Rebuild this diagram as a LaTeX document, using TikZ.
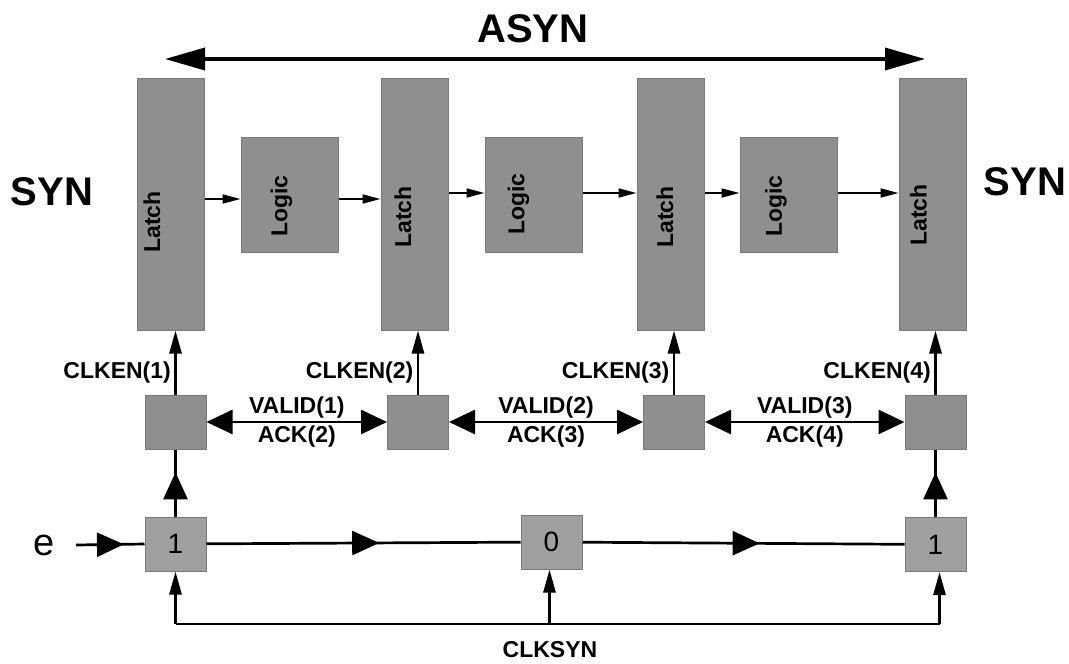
\documentclass[tikz,border=0pt]{standalone}
\usepackage{fontspec}
\setmainfont{Liberation Sans}
\usetikzlibrary{arrows.meta,decorations.markings}
\definecolor{boxgray}{RGB}{143,143,143}
\definecolor{tokgray}{RGB}{160,160,160}
\definecolor{edgegray}{RGB}{122,122,122}
\newcommand{\lblfont}{\fontsize{23}{27}\selectfont\bfseries}
\newcommand{\synfont}{\fontsize{40}{46}\selectfont\bfseries}
\newcommand{\digfont}{\fontsize{28}{32}\selectfont}
\begin{document}
\begin{tikzpicture}[x=1pt,y=1pt,
    block/.style={draw=edgegray,line width=1pt,fill=boxgray,inner sep=0pt},
    latch/.style={block,minimum width=67pt,minimum height=252pt},
    logic/.style={block,minimum width=97pt,minimum height=115pt},
    ctrl/.style={block,minimum width=61pt,minimum height=54pt},
    token/.style={ctrl,fill=tokgray,font=\digfont},
    lab/.style={font=\lblfont},
    vlab/.style={font=\lblfont,rotate=90,inner sep=0pt},
    sig/.style={line width=1.8pt,-{Triangle[length=18pt,width=9pt]}},
    en/.style={line width=2.7pt,-{Triangle[length=23pt,width=12pt]}},
    hand/.style={line width=2.7pt,{Triangle[length=26pt,width=24pt]}-{Triangle[length=26pt,width=24pt]}},
    flow/.style={line width=2.7pt,postaction={decorate},
      decoration={markings,mark=at position #1 with {\arrow{Triangle[length=27pt,width=24pt]}}}}]
  \useasboundingbox (0,0) rectangle (1069,-664);
  % pipeline
  \node[latch] (latch1) at (170.5,-204) {};
  \node[latch] (latch2) at (414.5,-204) {};
  \node[latch] (latch3) at (670.5,-204) {};
  \node[latch] (latch4) at (932.5,-204) {};
  \node[logic] (logic1) at (289.5,-195) {};
  \node[logic] (logic2) at (533.5,-195) {};
  \node[logic] (logic3) at (788.5,-195) {};
  \node[vlab] (latch1txt) at (152,-222) {Latch};
  \node[vlab] (latch2txt) at (403,-217) {Latch};
  \node[vlab] (latch3txt) at (665,-217) {Latch};
  \node[vlab] (latch4txt) at (918.5,-215) {Latch};
  \node[vlab] (logic1txt) at (281.5,-206) {Logic};
  \node[vlab] (logic2txt) at (518.5,-204) {Logic};
  \node[vlab] (logic3txt) at (776,-206) {Logic};
  \draw[sig] ([yshift=5pt]latch1.east) -- ([yshift=-4pt]logic1.west);
  \draw[sig] ([yshift=-4pt]logic1.east) -- ([yshift=5pt]latch2.west);
  \draw[sig] ([yshift=11pt]latch2.east) -- ([yshift=2pt]logic2.west);
  \draw[sig] ([yshift=2pt]logic2.east) -- ([yshift=11pt]latch3.west);
  \draw[sig] ([yshift=11pt]latch3.east) -- ([yshift=2pt]logic3.west);
  \draw[sig] ([yshift=2pt]logic3.east) -- ([yshift=11pt]latch4.west);
  % titles
  \node[font=\synfont] (asyn) at (533,-29) {ASYN};
  \node[font=\synfont] (synL) at (52,-192) {SYN};
  \node[font=\synfont] (synR) at (1025,-182) {SYN};
  \coordinate (asynL) at (165,-59);
  \coordinate (asynR) at (925,-59);
  \draw[line width=3.5pt,{Triangle[length=40pt,width=22pt]}-{Triangle[length=40pt,width=22pt]}] (asynL) -- (asynR);
  % handshake controllers
  \node[ctrl] (ctrl1) at (175.5,-422) {};
  \node[ctrl] (ctrl2) at (418,-422) {};
  \node[ctrl] (ctrl3) at (674,-422) {};
  \node[ctrl] (ctrl4) at (935.5,-422) {};
  \draw[en] (ctrl1.north) -- node[lab,left,pos=0.35] (en1) {CLKEN(1)} (ctrl1.north |- latch1.south);
  \draw[en] (ctrl2.north) -- node[lab,left,pos=0.35] (en2) {CLKEN(2)} (ctrl2.north |- latch2.south);
  \draw[en] (ctrl3.north) -- node[lab,left,pos=0.35] (en3) {CLKEN(3)} (ctrl3.north |- latch3.south);
  \draw[en] (ctrl4.north) -- node[lab,left,pos=0.35] (en4) {CLKEN(4)} (ctrl4.north |- latch4.south);
  \draw[hand] (ctrl1) -- node[lab,above,inner sep=2pt] (valid1) {VALID(1)} node[lab,below,inner sep=2pt] (ack2) {ACK(2)} (ctrl2);
  \draw[hand] (ctrl2) -- node[lab,above,inner sep=2pt] (valid2) {VALID(2)} node[lab,below,inner sep=2pt] (ack3) {ACK(3)} (ctrl3);
  \draw[hand] (ctrl3) -- node[lab,above,inner sep=2pt] (valid3) {VALID(3)} node[lab,below,inner sep=2pt] (ack4) {ACK(4)} (ctrl4);
  % token ring
  \node[token] (tok1) at (175.5,-544) {1};
  \node[token] (tok0) at (551.5,-542) {0};
  \node[token] (tok2) at (935.5,-544.5) {1};
  \node[font=\fontsize{38}{44}\selectfont] (e) at (44.5,-545) {e};
  \coordinate (ein) at (76,-545);
  \draw[flow=0.7] (ein) -- (tok1.west);
  \draw[flow=0.55] (tok1) -- (tok0);
  \draw[flow=0.55] (tok0) -- (tok2);
  \draw[flow=0.66] (tok1) -- (ctrl1);
  \draw[flow=0.66] (tok2) -- (ctrl4);
  % clock
  \coordinate (bus) at (0,-624);
  \draw[line width=2.7pt] (tok1.south |- bus) -- ([xshift=4pt]tok2.south |- bus);
  \draw[en] (tok1.south |- bus) -- (tok1.south);
  \draw[en] ([xshift=-2pt]tok0.south |- bus) -- ([xshift=-2pt]tok0.south);
  \draw[en] ([xshift=4pt]tok2.south |- bus) -- ([xshift=4pt]tok2.south);
  \node[lab] (clksyn) at (550,-650) {CLKSYN};
\end{tikzpicture}
\end{document}
